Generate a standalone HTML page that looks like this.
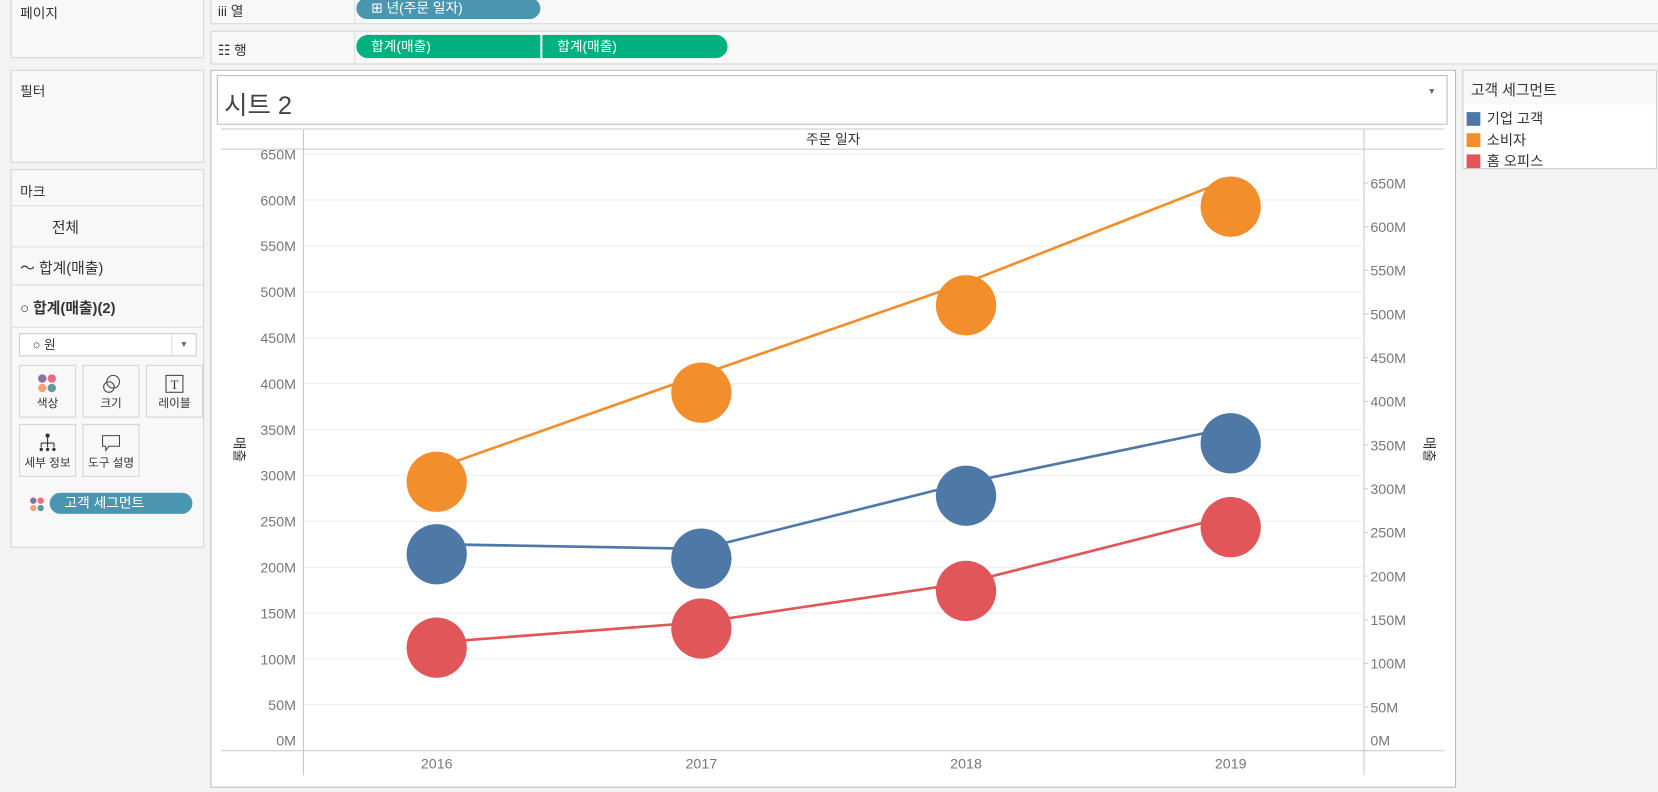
<!DOCTYPE html>
<html><head><meta charset="utf-8">
<style>
html,body{margin:0;padding:0;width:1658px;height:792px;overflow:hidden;background:#f3f3f3;}
#wrap{position:absolute;left:0;top:0;width:1568px;height:749px;transform-origin:0 0;transform:scale(1.05740,1.05740);font-family:"Liberation Sans","Noto Sans CJK KR","NanumGothic",sans-serif;color:#333;}
.box{position:absolute;background:#f8f8f8;border:1px solid #d4d4d4;box-sizing:border-box;}
.t{position:absolute;font-size:13px;white-space:nowrap;}
.pill{position:absolute;height:20px;border-radius:10px;color:#fff;font-size:13px;line-height:20px;box-sizing:border-box;padding-left:14px;white-space:nowrap;}
.card{position:absolute;width:54px;height:50px;border:1px solid #d4d4d4;background:#f8f8f8;box-sizing:border-box;font-size:11px;text-align:center;}
.card span{position:absolute;left:0;right:0;bottom:5px;}
.sep{position:absolute;left:0;right:0;height:1px;background:#ddd;}
</style></head><body>
<div id="wrap">
<div class="box" style="left:10px;top:-1px;width:183px;height:56px;"><div class="t" style="left:8px;top:2px;">페이지</div></div>
<div class="box" style="left:10px;top:66px;width:183px;height:88px;"><div class="t" style="left:8px;top:9px;">필터</div></div>
<div class="box" style="left:10px;top:160px;width:183px;height:358px;">
  <div class="t" style="left:8px;top:10px;">마크</div>
  <div class="sep" style="top:33px"></div>
  <div class="t" style="left:38px;top:44px;font-size:14px;">전체</div>
  <div class="sep" style="top:72px"></div>
  <div class="t" style="left:8px;top:82px;font-size:14px;">〜 합계(매출)</div>
  <div class="sep" style="top:108px"></div>
  <div class="t" style="left:8px;top:120px;font-size:14px;font-weight:bold;">○ 합계(매출)(2)</div>
  <div class="sep" style="top:148px"></div>
  <div style="position:absolute;left:7px;top:154px;width:168px;height:22px;border:1px solid #ccc;background:#fff;box-sizing:border-box;font-size:12px;line-height:20px;padding-left:12px;">○ 원<span style="position:absolute;right:0;top:0;width:22px;height:20px;border-left:1px solid #ddd;text-align:center;font-size:8px;color:#666;">▼</span></div>
  <div class="card" style="left:7px;top:184px;"><svg width="20" height="20" style="margin-top:7px"><circle cx="5" cy="5" r="4" fill="#8a6fa0"/><circle cx="14" cy="5" r="4" fill="#f06a7a"/><circle cx="5" cy="14" r="4" fill="#f4a37a"/><circle cx="14" cy="14" r="4" fill="#5e9aa0"/></svg><span>색상</span></div>
  <div class="card" style="left:67px;top:184px;"><svg width="20" height="20" style="margin-top:7px"><circle cx="12" cy="8" r="6" fill="none" stroke="#444"/><circle cx="8" cy="13" r="5" fill="none" stroke="#444"/></svg><span>크기</span></div>
  <div class="card" style="left:127px;top:184px;"><svg width="20" height="20" style="margin-top:7px"><rect x="2" y="2" width="16" height="16" fill="none" stroke="#444"/><text x="10" y="15" font-size="12" text-anchor="middle" fill="#333" font-family="Liberation Serif">T</text></svg><span>레이블</span></div>
  <div class="card" style="left:7px;top:240px;"><svg width="20" height="20" style="margin-top:7px"><circle cx="10" cy="3" r="2" fill="#333"/><path d="M10 5V10M4 10H16M4 10V14M10 10V14M16 10V14" stroke="#333" fill="none"/><circle cx="4" cy="16" r="1.6" fill="#333"/><circle cx="10" cy="16" r="1.6" fill="#333"/><circle cx="16" cy="16" r="1.6" fill="#333"/></svg><span>세부 정보</span></div>
  <div class="card" style="left:67px;top:240px;"><svg width="20" height="20" style="margin-top:7px"><path d="M2 3H18V13H8L5 17V13H2Z" fill="none" stroke="#444"/></svg><span>도구 설명</span></div>
  <svg style="position:absolute;left:17px;top:309px" width="14" height="14"><circle cx="3.5" cy="3.5" r="3" fill="#8a6fa0"/><circle cx="10.5" cy="3.5" r="3" fill="#f06a7a"/><circle cx="3.5" cy="10.5" r="3" fill="#f4a37a"/><circle cx="10.5" cy="10.5" r="3" fill="#5e9aa0"/></svg>
  <div class="pill" style="left:36px;top:305px;width:135px;background:#4a96b0;">고객 세그먼트</div>
</div>
<div class="box" style="left:199px;top:-1px;width:1380px;height:24px;">
  <div style="position:absolute;left:135px;top:0;bottom:0;width:1px;background:#ddd"></div>
  <div class="t" style="left:6px;top:0px;">iii 열</div>
</div>
<div class="pill" style="left:337px;top:-2px;width:174px;background:#4a96b0;">⊞ 년(주문 일자)</div>
<div class="box" style="left:199px;top:29px;width:1380px;height:32px;">
  <div style="position:absolute;left:135px;top:0;bottom:0;width:1px;background:#ddd"></div>
  <div class="t" style="left:6px;top:7px;">☷ 행</div>
</div>
<div class="pill" style="left:337px;top:33px;width:174px;height:22px;line-height:22px;background:#00b180;border-radius:11px 0 0 11px;">합계(매출)</div>
<div class="pill" style="left:513px;top:33px;width:175px;height:22px;line-height:22px;background:#00b180;border-radius:0 11px 11px 0;">합계(매출)</div>
<div style="position:absolute;left:199px;top:66px;width:1178px;height:679px;background:#fff;border:1px solid #bbb;box-sizing:border-box;"></div>
<div style="position:absolute;left:205px;top:71px;width:1164px;height:47px;border:1px solid #bbb;box-sizing:border-box;background:#fff;">
  <div class="t" style="left:6px;top:8px;font-size:24px;color:#444;">시트 2</div>
  <div style="position:absolute;right:10px;top:10px;font-size:8px;color:#666;">▼</div>
</div>
<div style="position:absolute;left:1383px;top:66px;width:184px;height:94px;border:1px solid #ccc;background:#fff;box-sizing:border-box;">
  <div style="position:absolute;left:0;right:0;top:0;height:32px;background:#f8f8f8"></div>
  <div class="t" style="left:7px;top:8px;font-size:14px;">고객 세그먼트</div>
  <div id="legendItems"></div>
</div>
<svg id="chart" style="position:absolute;left:0;top:0" width="1568" height="749"></svg>
</div>
<script>
const years=['2016','2017','2018','2019'];
const segments=['기업 고객','소비자','홈 오피스'];
const colors=['#4e79a7','#f28e2b','#e15759'];
const corporate=[225,220,292,352];
const consumer=[308,410,510,623];
const homeOffice=[118,140,183,256];
const series=[corporate,consumer,homeOffice];
const leftTicks=[0,50,100,150,200,250,300,350,400,450,500,550,600,650];
const rightTicks=[0,50,100,150,200,250,300,350,400,450,500,550,600,650];

const NS='http://www.w3.org/2000/svg';
const svg=document.getElementById('chart');
function mk(tag,attrs,parent){const e=document.createElementNS(NS,tag);for(const k in attrs)e.setAttribute(k,attrs[k]);(parent||svg).appendChild(e);return e;}
const x0=287,x1=1290,yBase=710;
function xs(i){return 413+i*250.3;}
function yL(v){return yBase-v*0.868;}
function yR(v){return yBase-v*0.826;}
let e;
e=mk('line',{x1:209,x2:1366,y1:122,y2:122,stroke:'#c8c8c8'});

e=mk('line',{x1:209,x2:1366,y1:141,y2:141,stroke:'#c8c8c8'});

e=mk('line',{x1:x0,x2:x0,y1:122,y2:733,stroke:'#c8c8c8'});

e=mk('line',{x1:x1,x2:x1,y1:122,y2:733,stroke:'#c8c8c8'});

e=mk('text',{x:788,y:136,'font-size':13,'text-anchor':'middle',fill:'#333','font-family':'Liberation Sans, Noto Sans CJK KR, sans-serif'});
e.textContent='주문 일자';

leftTicks.forEach(v=>{
  const y=yL(v);
  if(v>0){const g=mk('line',{x1:x0,x2:x1,y1:y,y2:y,stroke:'#eeeeee'});
  }
  const t=mk('text',{x:280,y:Math.min(y+5,705),'font-size':13.5,'text-anchor':'end',fill:'#777','font-family':'Liberation Sans, sans-serif'});
  t.textContent=v+'M';
  
});
rightTicks.forEach(v=>{
  const y=yR(v);
  const tk=mk('line',{x1:x1,x2:x1+4,y1:y,y2:y,stroke:'#ccc'});
  
  const t=mk('text',{x:1296,y:Math.min(y+5,705),'font-size':13.5,fill:'#777','font-family':'Liberation Sans, sans-serif'});
  t.textContent=v+'M';
  
});
e=mk('line',{x1:209,x2:1366,y1:yBase,y2:yBase,stroke:'#c8c8c8'});

e=mk('text',{x:0,y:0,'font-size':13,fill:'#333',transform:'translate(222,425) rotate(90)','text-anchor':'middle','font-family':'Liberation Sans, Noto Sans CJK KR, sans-serif'});
e.textContent='매출';

e=mk('text',{x:0,y:0,'font-size':13,fill:'#333',transform:'translate(1347,425) rotate(90)','text-anchor':'middle','font-family':'Liberation Sans, Noto Sans CJK KR, sans-serif'});
e.textContent='매출';

years.forEach((yr,i)=>{
  const t=mk('text',{x:xs(i),y:727,'font-size':13.5,'text-anchor':'middle',fill:'#777','font-family':'Liberation Sans, sans-serif'});
  t.textContent=yr;
  
});
series.forEach((s,si)=>{
  const p=mk('polyline',{points:s.map((v,i)=>xs(i)+','+yL(v)).join(' '),fill:'none',stroke:colors[si],'stroke-width':2.5});
  
});
series.forEach((s,si)=>{
  s.forEach((v,i)=>{
    const c=mk('circle',{cx:xs(i),cy:yR(v),r:28.5,fill:colors[si]});
    
  });
});
const li=document.getElementById('legendItems');
segments.forEach((s,i)=>{
  const d=document.createElement('div');
  
  
  d.style.cssText='position:absolute;left:3px;top:'+(34+i*20)+'px;font-size:13.5px;white-space:nowrap;';
  d.innerHTML='<span style="display:inline-block;width:13px;height:13px;background:'+colors[i]+';vertical-align:-2px;margin-right:6px"></span>'+s;
  li.appendChild(d);
});
</script>
</body></html>
